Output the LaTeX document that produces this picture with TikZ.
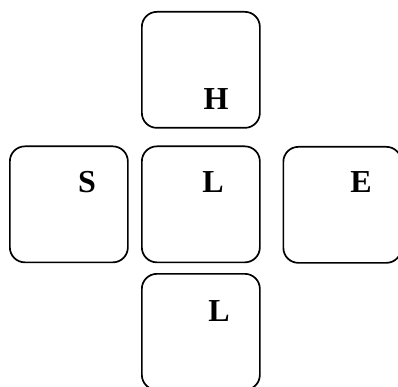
\documentclass[tikz,border=0pt]{standalone}
\usepackage{fontspec}
\setmainfont{Liberation Serif}
\begin{document}
\begin{tikzpicture}[x=1pt,y=-1pt,
  keybox/.style={draw=black,line width=1.7pt,rounded corners=15pt,minimum width=118pt,minimum height=116pt,inner sep=0pt,anchor=north west},
  keylabel/.style={font=\bfseries\fontsize{32}{32}\selectfont,inner sep=0pt}]
\useasboundingbox (0,0) rectangle (398,387);
\clip (0,0) rectangle (398,387);
\node[keybox] (top) at (141,11) {};
\node[keybox] (left) at (9,145.5) {};
\node[keybox] (mid) at (141,145.5) {};
\node[keybox] (right) at (282.5,146) {};
\node[keybox] (bot) at (141,273) {};
\node[keylabel] (th) at (216,99) {H};
\node[keylabel] (ls) at (87,182) {S};
\node[keylabel] (ml) at (213,182) {L};
\node[keylabel] (re) at (361,182) {E};
\node[keylabel] (bl) at (219,311) {L};
\end{tikzpicture}
\end{document}
